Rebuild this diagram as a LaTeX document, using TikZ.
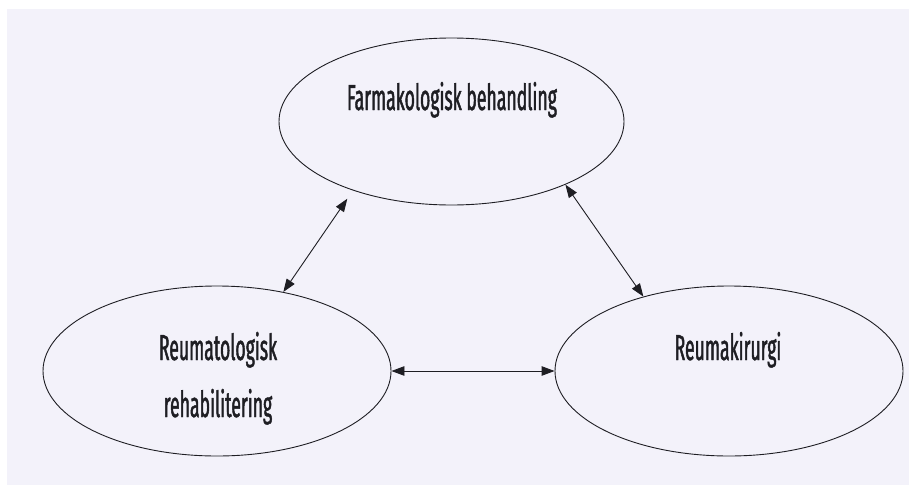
\documentclass[tikz,border=0pt]{standalone}
\usepackage{fontspec}
\setmainfont{Fira Sans}[FakeStretch=0.49, FakeBold=1.2]
\usetikzlibrary{shapes.geometric,arrows.meta}
\definecolor{paper}{RGB}{243,242,250}
\definecolor{ink}{RGB}{30,30,35}
\begin{document}
\begin{tikzpicture}[x=1pt,y=-1pt,
  bubble/.style={draw=ink, line width=0.9pt, ellipse, minimum width=348pt, minimum height=170pt, inner sep=0pt},
  lbl/.style={font=\fontsize{36}{40}\selectfont, anchor=base, text=ink, inner sep=0pt},
  link/.style={draw=ink, line width=0.9pt, {Triangle[length=13pt,width=9.5pt]}-{Triangle[length=13pt,width=9.5pt]}}]
\useasboundingbox (0,0) rectangle (909,485);
\fill[white] (0,0) rectangle (909,485);
\fill[paper] (7,9) rectangle (909,485);
\node[bubble, minimum width=345pt, minimum height=167pt] (T) at (451.5,121.5) {};
\node[bubble] (L) at (217,371) {};
\node[bubble] (R) at (729,371) {};
\node[lbl] (tT) at (452,110) {Farmakologisk behandling};
\node[lbl] (tR) at (728,360) {Reumakirurgi};
\node[lbl] (tL1) at (218,360) {Reumatologisk};
\node[lbl] (tL2) at (218,417) {rehabilitering};
\draw[link, shorten >=10pt] (L.50) -- (T.215);
\draw[link] (R.139.7) -- (T.331);
\draw[link] (L.east) -- (R.west);
\end{tikzpicture}
\end{document}
